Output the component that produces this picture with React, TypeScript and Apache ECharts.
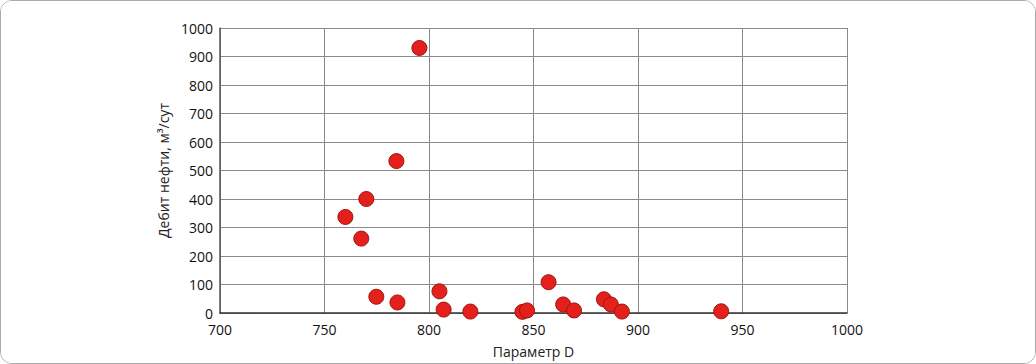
import React, { useEffect, useRef } from "react";
import * as echarts from "echarts";

const paramD = [795.4, 784.4, 770, 760, 767.6, 774.8, 784.9, 805, 807, 819.8, 844.7, 846.9, 857.2, 864.2, 869.4, 883.7, 887, 892.3, 939.8];
const oilRate = [930, 533, 400, 337, 261, 57, 37, 76, 12, 5, 4, 9, 108, 30, 9, 48, 30, 5, 6];
const xTicks = [700, 750, 800, 850, 900, 950, 1000];
const yTicks = [0, 100, 200, 300, 400, 500, 600, 700, 800, 900, 1000];

export default function App() {
  const ref = useRef<HTMLDivElement>(null);
  useEffect(() => {
    if (!ref.current) return;
    const chart = echarts.init(ref.current, undefined, { renderer: "svg" });
    const font = "'Open Sans', sans-serif";
    chart.setOption({
      animation: false,
      backgroundColor: "#fff",
      grid: { left: 220, right: 189, top: 28, bottom: 51, containLabel: false },
      xAxis: {
        type: "value",
        min: xTicks[0],
        max: xTicks[xTicks.length - 1],
        interval: 50,
        name: "Параметр D",
        nameLocation: "middle",
        nameGap: 31,
        nameTextStyle: { fontFamily: font, fontSize: 14, color: "#222" },
        axisLine: { show: true, lineStyle: { color: "#333", width: 1.5 } },
        axisTick: { show: false },
        axisLabel: { fontFamily: font, fontSize: 14, color: "#111", margin: 9, formatter: (v: number) => String(v) },
        splitLine: { show: true, lineStyle: { color: "#8a8a8a", width: 1 } },
      },
      yAxis: {
        type: "value",
        min: yTicks[0],
        max: yTicks[yTicks.length - 1],
        interval: 100,
        name: "Дебит нефти, м³/сут",
        nameLocation: "middle",
        nameGap: 46,
        nameRotate: 90,
        nameTextStyle: { fontFamily: font, fontSize: 14, color: "#222" },
        axisLine: { show: true, lineStyle: { color: "#555", width: 1.5 } },
        axisTick: { show: false },
        axisLabel: { fontFamily: font, fontSize: 14, color: "#111", margin: 7, formatter: (v: number) => String(v) },
        splitLine: { show: true, lineStyle: { color: "#8a8a8a", width: 1 } },
      },
      series: [
        {
          type: "scatter",
          data: paramD.map((x, i) => [x, oilRate[i]]),
          symbolSize: 15,
          itemStyle: { color: "#e3201c", borderColor: "#a01410", borderWidth: 1, opacity: 1 },
        },
      ],
    });
    return () => chart.dispose();
  }, []);
  return (
    <div
      style={{
        position: "absolute",
        left: 0,
        top: 0,
        width: 1036,
        height: 364,
        border: "1.5px solid #aaa",
        borderRadius: 12,
        boxSizing: "border-box",
        overflow: "hidden",
        background: "#fff",
      }}
    >
      <div ref={ref} style={{ position: "absolute", left: -1.5, top: -1.5, width: 1036, height: 364 }} />
    </div>
  );
}
